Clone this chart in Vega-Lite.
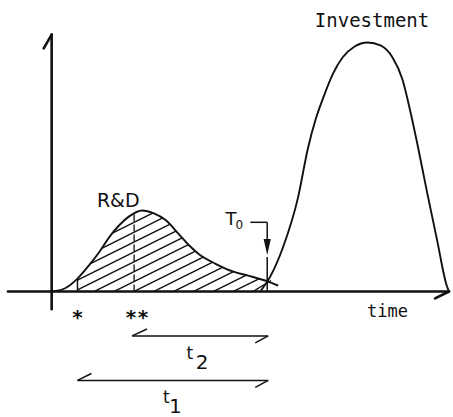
{
  "$schema": "https://vega.github.io/schema/vega-lite/v6.json",
  "width": 453,
  "height": 417,
  "autosize": {"type": "fit", "contains": "padding"},
  "padding": 0,
  "background": "white",
  "config": {"view": {"stroke": null}},
  "encoding": {
    "x": {"field": "x", "type": "quantitative", "axis": null, "scale": {"domain": [-5.2, 40.1], "nice": false, "zero": false}},
    "y": {"field": "y", "type": "quantitative", "axis": null, "scale": {"domain": [-12.2, 29.5], "nice": false, "zero": false}}
  },
  "layer": [
    {
      "data": {"values": [
        {"x": 20.3, "y": 0, "x2": 22.08, "y2": 1.11},
        {"x": 18.3, "y": 0, "x2": 20.86, "y2": 1.28},
        {"x": 16.3, "y": 0, "x2": 19.6, "y2": 1.65},
        {"x": 14.3, "y": 0, "x2": 18.3, "y2": 2.0},
        {"x": 12.3, "y": 0, "x2": 17.24, "y2": 2.47},
        {"x": 10.3, "y": 0, "x2": 16.22, "y2": 2.96},
        {"x": 8.3, "y": 0, "x2": 15.31, "y2": 3.5},
        {"x": 6.3, "y": 0, "x2": 14.48, "y2": 4.09},
        {"x": 4.3, "y": 0, "x2": 13.77, "y2": 4.74},
        {"x": 2.6, "y": 0.15, "x2": 13.14, "y2": 5.42},
        {"x": 2.6, "y": 1.15, "x2": 12.51, "y2": 6.1},
        {"x": 3.86, "y": 2.78, "x2": 11.88, "y2": 6.79},
        {"x": 5.05, "y": 4.37, "x2": 11.13, "y2": 7.42},
        {"x": 6.16, "y": 5.93, "x2": 10.17, "y2": 7.94}
      ]},
      "mark": {"type": "rule", "color": "#111", "strokeWidth": 1.4},
      "encoding": {"x2": {"field": "x2"}, "y2": {"field": "y2"}}
    },
    {
      "data": {"values": [{"x": 8.3, "y": 0, "x2": 8.3, "y2": 7.83}]},
      "mark": {"type": "rule", "color": "#111", "strokeWidth": 1.3, "strokeDash": [7, 3]},
      "encoding": {"x2": {"field": "x2"}, "y2": {"field": "y2"}}
    },
    {
      "data": {"values": [
        {"x": -4.4, "y": 0, "x2": 40, "y2": 0},
        {"x": 40, "y": 0, "x2": 38.6, "y2": -0.7},
        {"x": 0, "y": 26, "x2": 0, "y2": -1.8},
        {"x": 0, "y": 26, "x2": -0.8, "y2": 24.6}
      ]},
      "mark": {"type": "rule", "color": "#111", "strokeWidth": 2.6, "strokeCap": "round"},
      "encoding": {"x2": {"field": "x2"}, "y2": {"field": "y2"}}
    },
    {
      "data": {"values": [
        {"x": 2.6, "y": 0, "x2": 2.6, "y2": 1.3},
        {"x": 21.7, "y": 0, "x2": 21.7, "y2": 3.5},
        {"x": 20.0, "y": 7.0, "x2": 21.7, "y2": 7.0},
        {"x": 21.7, "y": 7.0, "x2": 21.7, "y2": 5.0},
        {"x": 8.1, "y": -4.5, "x2": 21.8, "y2": -4.5},
        {"x": 8.1, "y": -4.5, "x2": 9.6, "y2": -3.8},
        {"x": 21.8, "y": -4.5, "x2": 20.5, "y2": -5.2},
        {"x": 2.6, "y": -9.0, "x2": 21.8, "y2": -9.0},
        {"x": 2.6, "y": -9.0, "x2": 4.0, "y2": -8.3},
        {"x": 21.8, "y": -9.0, "x2": 20.5, "y2": -9.7}
      ]},
      "mark": {"type": "rule", "color": "#111", "strokeWidth": 1.5},
      "encoding": {"x2": {"field": "x2"}, "y2": {"field": "y2"}}
    },
    {
      "data": {"values": [
        {"series": "R&D", "x": 0, "y": 0},
        {"series": "R&D", "x": 1.3, "y": 0.3},
        {"series": "R&D", "x": 2.6, "y": 1.3},
        {"series": "R&D", "x": 3.8, "y": 2.7},
        {"series": "R&D", "x": 4.8, "y": 4.0},
        {"series": "R&D", "x": 5.8, "y": 5.5},
        {"series": "R&D", "x": 6.8, "y": 6.7},
        {"series": "R&D", "x": 7.8, "y": 7.6},
        {"series": "R&D", "x": 9.1, "y": 8.2},
        {"series": "R&D", "x": 10.3, "y": 7.9},
        {"series": "R&D", "x": 11.5, "y": 7.2},
        {"series": "R&D", "x": 12.8, "y": 5.8},
        {"series": "R&D", "x": 13.8, "y": 4.7},
        {"series": "R&D", "x": 14.8, "y": 3.8},
        {"series": "R&D", "x": 16.5, "y": 2.8},
        {"series": "R&D", "x": 18.3, "y": 2.0},
        {"series": "R&D", "x": 19.8, "y": 1.6},
        {"series": "R&D", "x": 21.8, "y": 1.0},
        {"series": "R&D", "x": 22.8, "y": 0.6},
        {"series": "Investment", "x": 21.0, "y": 0},
        {"series": "Investment", "x": 22.0, "y": 1.5},
        {"series": "Investment", "x": 23.3, "y": 4.5},
        {"series": "Investment", "x": 24.8, "y": 9.5},
        {"series": "Investment", "x": 25.8, "y": 14.5},
        {"series": "Investment", "x": 26.6, "y": 17.5},
        {"series": "Investment", "x": 27.3, "y": 19.5},
        {"series": "Investment", "x": 28.3, "y": 22.0},
        {"series": "Investment", "x": 29.3, "y": 23.7},
        {"series": "Investment", "x": 30.5, "y": 24.8},
        {"series": "Investment", "x": 31.8, "y": 25.2},
        {"series": "Investment", "x": 33.1, "y": 24.9},
        {"series": "Investment", "x": 34.3, "y": 23.7},
        {"series": "Investment", "x": 35.3, "y": 21.5},
        {"series": "Investment", "x": 36.0, "y": 18.7},
        {"series": "Investment", "x": 36.8, "y": 15.0},
        {"series": "Investment", "x": 37.8, "y": 10.0},
        {"series": "Investment", "x": 38.8, "y": 5.2},
        {"series": "Investment", "x": 39.8, "y": 0.5},
        {"series": "Investment", "x": 40.0, "y": 0}
      ]},
      "mark": {"type": "line", "color": "#111", "strokeWidth": 1.9, "interpolate": "monotone"},
      "encoding": {"detail": {"field": "series", "type": "nominal"}}
    },
    {
      "data": {"values": [{"x": 21.7, "y": 4.5}]},
      "mark": {"type": "point", "shape": "M-0.45,-1L0.45,-1L0,1Z", "size": 256, "filled": true, "color": "#111", "opacity": 1}
    },
    {
      "data": {"values": [{"label": "Investment", "x": 32.25, "y": 26.8}]},
      "mark": {"type": "text", "font": "DejaVu Sans Mono", "fontSize": 19, "color": "#111", "align": "center", "baseline": "alphabetic"},
      "encoding": {"text": {"field": "label"}}
    },
    {
      "data": {"values": [{"label": "time", "x": 33.8, "y": -2.6}]},
      "mark": {"type": "text", "font": "DejaVu Sans Mono", "fontSize": 17, "color": "#111", "align": "center", "baseline": "alphabetic"},
      "encoding": {"text": {"field": "label"}}
    },
    {
      "data": {"values": [{"label": "R&D", "x": 6.7, "y": 8.5}]},
      "mark": {"type": "text", "font": "DejaVu Sans", "fontSize": 19, "color": "#111", "align": "center", "baseline": "alphabetic"},
      "encoding": {"text": {"field": "label"}}
    },
    {
      "data": {"values": [{"label": "T", "x": 18.05, "y": 6.7}]},
      "mark": {"type": "text", "font": "DejaVu Sans", "fontSize": 18, "color": "#111", "align": "center", "baseline": "alphabetic"},
      "encoding": {"text": {"field": "label"}}
    },
    {
      "data": {"values": [{"label": "0", "x": 18.9, "y": 6.3}]},
      "mark": {"type": "text", "font": "DejaVu Sans", "fontSize": 12, "color": "#111", "align": "center", "baseline": "alphabetic"},
      "encoding": {"text": {"field": "label"}}
    },
    {
      "data": {"values": [{"label": "*", "x": 2.6, "y": -3.3}, {"label": "**", "x": 8.6, "y": -3.3}]},
      "mark": {"type": "text", "font": "DejaVu Sans Mono", "fontSize": 20, "fontWeight": "bold", "color": "#111", "align": "center", "baseline": "alphabetic"},
      "encoding": {"text": {"field": "label"}}
    },
    {
      "data": {"values": [{"label": "t", "x": 13.9, "y": -6.8}, {"label": "t", "x": 11.55, "y": -11.3}]},
      "mark": {"type": "text", "font": "DejaVu Sans", "fontSize": 17, "color": "#111", "align": "center", "baseline": "alphabetic"},
      "encoding": {"text": {"field": "label"}}
    },
    {
      "data": {"values": [{"label": "2", "x": 15.15, "y": -7.8}, {"label": "1", "x": 12.45, "y": -12.3}]},
      "mark": {"type": "text", "font": "DejaVu Sans", "fontSize": 20, "color": "#111", "align": "center", "baseline": "alphabetic"},
      "encoding": {"text": {"field": "label"}}
    }
  ]
}
